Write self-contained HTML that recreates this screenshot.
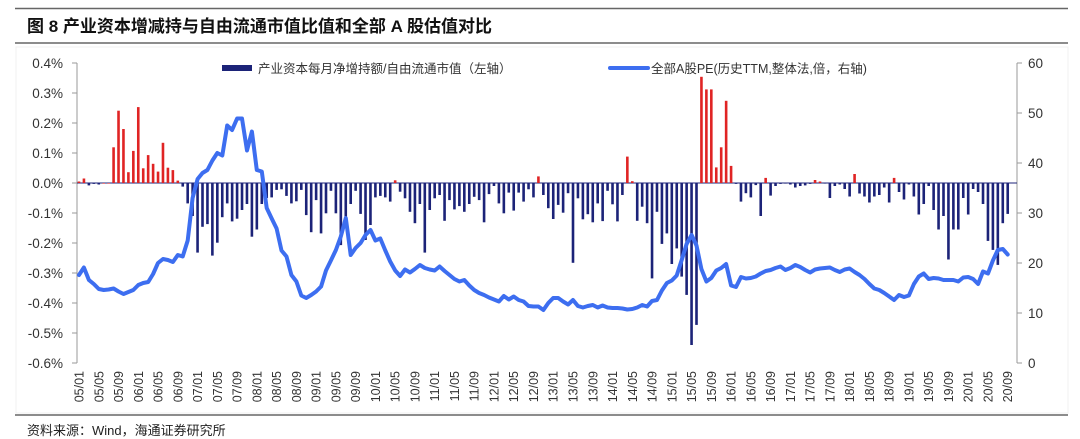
<!DOCTYPE html>
<html><head><meta charset="utf-8"><style>
body{margin:0;background:#fff;width:1080px;height:439px;overflow:hidden;font-family:"Liberation Sans","Noto Sans CJK SC",sans-serif;}
svg{display:block}
</style></head><body>
<svg id="chart" width="1080" height="439" viewBox="0 0 1080 439" xmlns="http://www.w3.org/2000/svg">
<line x1="15" y1="8.5" x2="1068" y2="8.5" stroke="#666" stroke-width="1.5"/>
<text x="27" y="32" font-size="17" font-weight="bold" fill="#111" font-family="Liberation Sans, Noto Sans CJK SC, sans-serif">图 8  产业资本增减持与自由流通市值比值和全部 A 股估值对比</text>
<line x1="15" y1="43" x2="1068" y2="43" stroke="#666" stroke-width="1.5"/>
<rect x="16" y="47" width="1052" height="366" fill="none" stroke="#f0f0f0" stroke-width="1"/>
<g id="axes"></g>
<g id="bars"></g>
<g id="line"></g>
<g id="legend">
  <rect x="222" y="65" width="30" height="6" fill="#1c2378"/>
  <text x="258" y="73" font-size="12.5" fill="#333" font-family="Liberation Sans, Noto Sans CJK SC, sans-serif">产业资本每月净增持额/自由流通市值（左轴）</text>
  <line x1="610" y1="68" x2="648" y2="68" stroke="#3d6ef0" stroke-width="4" stroke-linecap="round"/>
  <text x="651" y="73" font-size="12.5" fill="#333" font-family="Liberation Sans, Noto Sans CJK SC, sans-serif">全部A股PE(历史TTM,整体法,倍，右轴)</text>
</g>
<line x1="15" y1="415" x2="1068" y2="415" stroke="#666" stroke-width="1.5"/>
<text x="27" y="435" font-size="13" fill="#222" font-family="Liberation Sans, Noto Sans CJK SC, sans-serif">资料来源：Wind，海通证券研究所</text>
</svg>
<script>
const barValues = [0.005,0.015,-0.008,-0.003,-0.005,0,0,0.119,0.241,0.18,0.036,0.107,0.253,0.049,0.093,0.064,0.038,0.134,0.051,0.043,0.008,-0.012,-0.068,-0.11,-0.232,-0.146,-0.137,-0.242,-0.199,-0.114,-0.068,-0.128,-0.119,-0.09,-0.07,-0.179,-0.155,-0.07,-0.05,-0.048,-0.023,-0.021,-0.043,-0.068,-0.061,-0.023,-0.107,-0.164,
-0.057,-0.168,-0.101,-0.026,-0.101,-0.207,-0.112,-0.07,-0.026,-0.103,-0.19,-0.14,-0.048,-0.043,-0.048,-0.062,0.009,-0.029,-0.051,-0.096,-0.134,-0.07,-0.232,-0.09,-0.051,-0.04,-0.126,-0.057,-0.088,-0.077,-0.096,-0.07,-0.046,-0.057,-0.131,-0.037,-0.01,-0.068,-0.101,-0.032,-0.092,-0.032,-0.062,-0.021,-0.048,0.022,-0.04,
-0.084,-0.12,-0.073,-0.099,-0.034,-0.266,-0.051,-0.121,-0.104,-0.131,-0.068,-0.127,-0.026,-0.071,-0.128,-0.04,0.088,0.006,-0.126,-0.079,-0.134,-0.318,-0.096,-0.203,-0.168,-0.27,-0.218,-0.312,-0.373,-0.54,-0.473,0.354,0.312,0.312,0.052,0.119,0.274,0.057,-0.003,-0.062,-0.034,-0.048,-0.007,-0.11,0.017,-0.042,
-0.01,-0.003,-0.002,-0.005,-0.015,-0.01,-0.008,-0.003,0.01,0.005,-0.002,-0.05,-0.01,-0.005,-0.02,-0.045,0.03,-0.035,-0.045,-0.065,-0.045,-0.04,-0.015,-0.065,0.017,-0.03,-0.055,-0.005,-0.045,-0.105,-0.07,-0.01,-0.09,-0.155,-0.11,-0.255,-0.155,-0.155,-0.05,-0.105,-0.02,-0.03,-0.07,-0.193,-0.223,-0.273,-0.134,-0.103];
const peValues = [17.6,19.1,16.6,15.8,14.8,14.6,14.7,14.9,14.3,13.8,14.2,14.6,15.6,16.0,16.2,17.8,20.0,20.8,20.6,20.2,21.6,21.3,24.5,33,36.8,38.0,38.6,40.5,42.0,41.5,47.5,46.6,48.9,48.9,42.5,46.3,38.6,38.3,31,28.9,26.9,22.5,21.3,17.6,16.3,13.5,13.0,13.6,
14.3,15.3,18.5,20.5,22.6,25.3,29.0,21.6,23.0,24.0,25.6,26.6,24.5,24.9,22.5,20.3,18.5,17.4,18.7,18.1,18.8,19.6,19.0,18.7,18.5,19.3,18.4,17.6,16.8,16.3,16.6,15.5,14.6,14.0,13.6,13.1,12.7,12.3,13.4,12.7,13.3,12.6,12.3,11.4,11.3,11.3,10.6,
12.0,13.0,13.0,12.3,11.7,12.6,11.4,11.1,11.4,11.6,11.1,11.5,11.1,11.0,11.0,10.9,10.7,10.8,11.1,11.6,11.3,12.4,12.6,14.5,16.0,16.5,17.5,20.6,23.8,25.6,23.5,18.8,16.3,17.0,18.5,19.0,19.8,15.5,15.2,17.2,16.9,17.0,17.3,17.9,18.4,18.6,
19.0,19.3,18.6,19.0,19.6,19.2,18.6,18.1,18.7,18.9,19.0,19.1,18.6,18.2,18.7,18.9,18.2,17.6,16.8,15.8,14.9,14.6,14.0,13.3,12.6,13.6,13.2,13.5,15.8,17.3,17.9,16.8,17.0,16.9,16.6,16.6,16.6,16.3,17.1,17.2,16.8,15.8,18.3,17.9,20.5,22.6,22.8,21.7];
const leftTicks = [0.4,0.3,0.2,0.1,0.0,-0.1,-0.2,-0.3,-0.4,-0.5,-0.6];
const leftTickLabels = ["0.4%","0.3%","0.2%","0.1%","0.0%","-0.1%","-0.2%","-0.3%","-0.4%","-0.5%","-0.6%"];
const rightTicks = [60,50,40,30,20,10,0];
const startYear = 2005;

const NS="http://www.w3.org/2000/svg";
const X0=79, DX=4.94, LAX=77, RAX=1017, YT=63, YB=363;
function xAt(i){return X0+DX*i;}
function yL(v){return YT+(0.4-v)/1.0*(YB-YT);}
function yR(v){return YB-v/60*(YB-YT);}
function mk(tag,attrs,parent){const e=document.createElementNS(NS,tag);for(const k in attrs)e.setAttribute(k,attrs[k]);parent.appendChild(e);return e;}

const axes=document.getElementById('axes');
let a=mk('line',{x1:LAX,y1:YT,x2:LAX,y2:YB,stroke:'#999','stroke-width':1},axes);


a=mk('line',{x1:RAX,y1:YT,x2:RAX,y2:YB,stroke:'#999','stroke-width':1},axes);


leftTicks.forEach((v,k)=>{
  const y=yL(v);
  const t=mk('line',{x1:LAX-5,y1:y,x2:LAX,y2:y,stroke:'#999','stroke-width':1},axes);
  
  
  const tx=mk('text',{x:LAX-14,y:y+5,'text-anchor':'end','font-size':13.5,fill:'#333'},axes);
  tx.textContent=leftTickLabels[k];
  
  
});
rightTicks.forEach(v=>{
  const y=yR(v);
  const t=mk('line',{x1:RAX,y1:y,x2:RAX+5,y2:y,stroke:'#999','stroke-width':1},axes);
  
  
  const tx=mk('text',{x:RAX+11,y:y+5,'text-anchor':'start','font-size':13.5,fill:'#333'},axes);
  tx.textContent=String(v);
  
  
});
// zero line
const z=mk('line',{x1:LAX,y1:yL(0),x2:RAX,y2:yL(0),stroke:'#1c2378','stroke-width':1},axes);


// x labels
for(let i=0;i<barValues.length;i+=4){
  const yr=startYear+Math.floor(i/12), mo=i%12+1;
  const lbl=String(yr%100).padStart(2,'0')+'/'+String(mo).padStart(2,'0');
  const x=xAt(i);
  const tx=mk('text',{x:0,y:0,transform:`translate(${x+4.5},371) rotate(-90)`,'text-anchor':'end','font-size':12.5,fill:'#333'},axes);
  tx.textContent=lbl;
  
  
}
// bars
const bars=document.getElementById('bars');
barValues.forEach((v,i)=>{
  const y0=yL(0), y1=yL(v);
  const r=mk('rect',{x:xAt(i)-1.3,y:Math.min(y0,y1),width:2.6,height:Math.max(Math.abs(y1-y0),0.6),fill:v>=0?'#e02424':'#1c2378'},bars);
  
  
});
// line
const line=document.getElementById('line');
const pts=peValues.map((v,i)=>xAt(i).toFixed(1)+','+yR(v).toFixed(1)).join(' ');
const pl=mk('polyline',{points:pts,fill:'none',stroke:'#3d6ef0','stroke-width':4,'stroke-linejoin':'round','stroke-linecap':'round'},line);


</script>
</body></html>
